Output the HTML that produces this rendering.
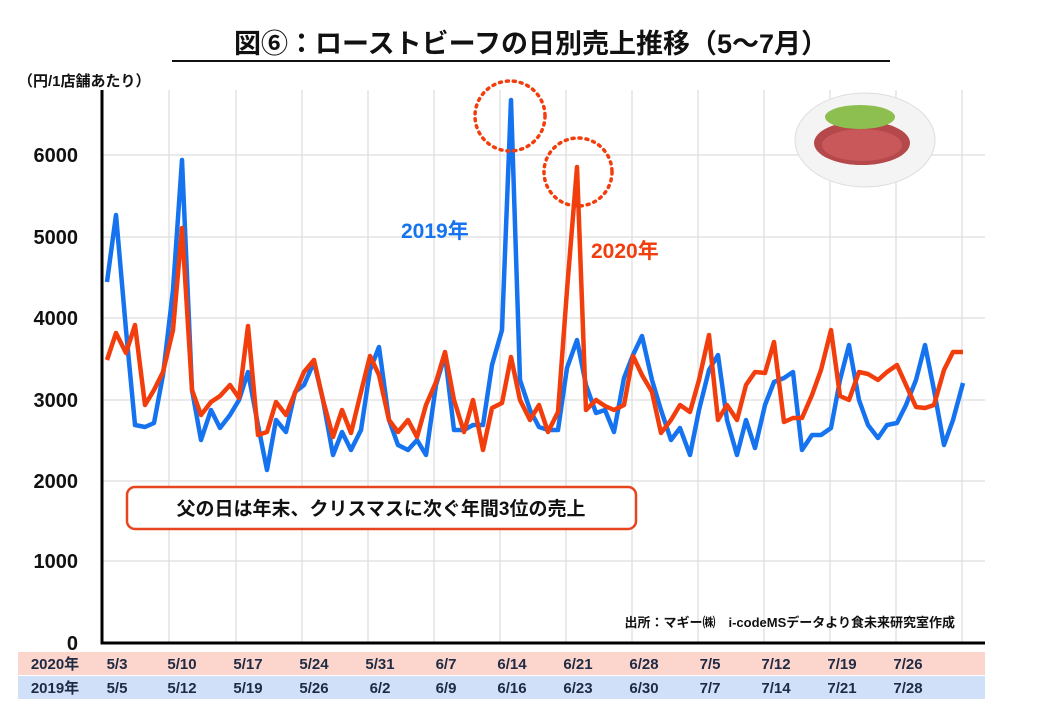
<!DOCTYPE html>
<html><head><meta charset="utf-8"><style>
body{margin:0;width:1040px;height:720px;background:#fff;overflow:hidden;font-family:"Liberation Sans","Noto Sans CJK JP",sans-serif}
</style></head><body>
<svg width="1040" height="720" xmlns="http://www.w3.org/2000/svg" style="position:absolute;left:0;top:0">
<g font-family="Liberation Sans, Noto Sans CJK JP, sans-serif" font-weight="bold">
<text x="531" y="53" text-anchor="middle" font-size="27" fill="#111">図⑥：ローストビーフの日別売上推移（5〜7月）</text>
<line x1="172" y1="61" x2="890" y2="61" stroke="#111" stroke-width="2"/>
<text x="18" y="86" font-size="15" fill="#111">（円/1店舗あたり）</text>
<g stroke="#ddd" stroke-width="1.2">
<line x1="103" y1="155" x2="985" y2="155"/><line x1="103" y1="237" x2="985" y2="237"/><line x1="103" y1="318" x2="985" y2="318"/><line x1="103" y1="400" x2="985" y2="400"/><line x1="103" y1="481" x2="985" y2="481"/><line x1="103" y1="561" x2="985" y2="561"/>
<line x1="169" y1="90" x2="169" y2="642"/><line x1="236" y1="90" x2="236" y2="642"/><line x1="302" y1="90" x2="302" y2="642"/><line x1="368" y1="90" x2="368" y2="642"/><line x1="434" y1="90" x2="434" y2="642"/><line x1="500" y1="90" x2="500" y2="642"/><line x1="566" y1="90" x2="566" y2="642"/><line x1="632" y1="90" x2="632" y2="642"/><line x1="698" y1="90" x2="698" y2="642"/><line x1="764" y1="90" x2="764" y2="642"/><line x1="830" y1="90" x2="830" y2="642"/><line x1="896" y1="90" x2="896" y2="642"/><line x1="962" y1="90" x2="962" y2="642"/>
</g>
<polyline fill="none" stroke="#000" stroke-width="3" points="102,90 102,643 985,643"/>
<g font-size="20" fill="#111" text-anchor="end">
<text x="78" y="162">6000</text><text x="78" y="244">5000</text><text x="78" y="325">4000</text><text x="78" y="407">3000</text><text x="78" y="488">2000</text><text x="78" y="568">1000</text><text x="78" y="650">0</text>
</g>
<ellipse cx="865" cy="140" rx="70" ry="47" fill="#f4f4f4" stroke="#ddd"/>
<ellipse cx="862" cy="143" rx="48" ry="22" fill="#b5484a"/>
<ellipse cx="860" cy="117" rx="35" ry="12" fill="#8cbf4f"/>
<ellipse cx="862" cy="145" rx="40" ry="16" fill="#c9585a"/>
<polyline fill="none" stroke="#1673f0" stroke-width="4.5" stroke-linejoin="round" points="107,282 116,215 126,330 135,425 145,427 154,423 163,375 173,290 182,160 192,390 201,440 211,410 220,428 230,415 239,400 248,372 258,425 267,470 276,420 286,432 295,392 304,385 314,362 323,400 333,455 342,432 351,450 361,430 370,370 379,347 389,420 398,445 408,450 417,440 426,455 436,385 445,355 454,430 464,430 473,425 483,425 492,365 502,330 511,100 520,380 530,410 539,427 548,430 558,430 567,368 577,340 586,385 596,413 605,410 614,432 624,378 633,355 642,336 652,380 661,410 671,440 680,428 690,455 699,410 709,370 718,355 727,420 737,455 746,420 755,448 765,405 774,382 784,378 793,372 802,450 812,435 821,435 831,428 840,380 849,345 859,400 868,425 878,438 887,425 897,423 906,405 916,380 925,345 934,390 944,445 953,420 963,383"/>
<polyline fill="none" stroke="#f23d0c" stroke-width="4.5" stroke-linejoin="round" points="107,360 116,333 126,353 135,325 145,405 154,390 163,372 173,330 182,228 192,390 201,415 211,402 220,396 230,385 239,398 248,326 258,435 267,432 276,402 286,415 295,393 304,372 314,360 323,400 333,437 342,410 351,433 361,392 370,356 379,375 389,420 398,432 408,420 417,437 426,405 436,382 445,352 454,400 464,432 473,400 483,450 492,408 502,403 511,357 520,400 530,420 539,405 548,432 558,412 567,290 577,167 586,410 596,400 605,406 614,410 624,405 633,356 642,375 652,392 661,433 671,420 680,405 690,412 699,380 709,335 718,420 727,405 737,420 746,385 755,372 765,373 774,342 784,422 793,418 802,418 812,395 821,370 831,330 840,396 849,400 859,372 868,374 878,380 887,372 897,365 906,385 916,407 925,408 934,405 944,370 953,352 963,352"/>
<circle cx="510" cy="116" r="35" fill="none" stroke="#f23d0c" stroke-width="3.5" stroke-dasharray="2,5" stroke-linecap="round"/>
<circle cx="578" cy="172" r="34" fill="none" stroke="#f23d0c" stroke-width="3.5" stroke-dasharray="2,5" stroke-linecap="round"/>
<text x="401" y="238" font-size="21" fill="#1673f0">2019年</text>
<text x="591" y="258" font-size="21" fill="#f23d0c">2020年</text>
<rect x="127" y="487" width="509" height="42" rx="8" fill="#fff" stroke="#e8451e" stroke-width="2.5"/>
<text x="381" y="515" text-anchor="middle" font-size="19" fill="#111">父の日は年末、クリスマスに次ぐ年間3位の売上</text>
<text x="955" y="627" text-anchor="end" font-size="13" fill="#111">出所：マギー㈱　i-codeMSデータより食未来研究室作成</text>
<rect x="18" y="652" width="967" height="23" fill="#fcd5cc"/>
<rect x="18" y="676" width="967" height="23" fill="#cfe0f8"/>
<g font-size="15" fill="#1f2a44" text-anchor="middle">
<text x="55" y="669">2020年</text><text x="55" y="693">2019年</text>
<text x="117" y="669">5/3</text><text x="182" y="669">5/10</text><text x="248" y="669">5/17</text><text x="314" y="669">5/24</text><text x="380" y="669">5/31</text><text x="446" y="669">6/7</text><text x="512" y="669">6/14</text><text x="578" y="669">6/21</text><text x="644" y="669">6/28</text><text x="710" y="669">7/5</text><text x="776" y="669">7/12</text><text x="842" y="669">7/19</text><text x="908" y="669">7/26</text>
<text x="117" y="693">5/5</text><text x="182" y="693">5/12</text><text x="248" y="693">5/19</text><text x="314" y="693">5/26</text><text x="380" y="693">6/2</text><text x="446" y="693">6/9</text><text x="512" y="693">6/16</text><text x="578" y="693">6/23</text><text x="644" y="693">6/30</text><text x="710" y="693">7/7</text><text x="776" y="693">7/14</text><text x="842" y="693">7/21</text><text x="908" y="693">7/28</text>
</g>
</g>
</svg>
</body></html>
